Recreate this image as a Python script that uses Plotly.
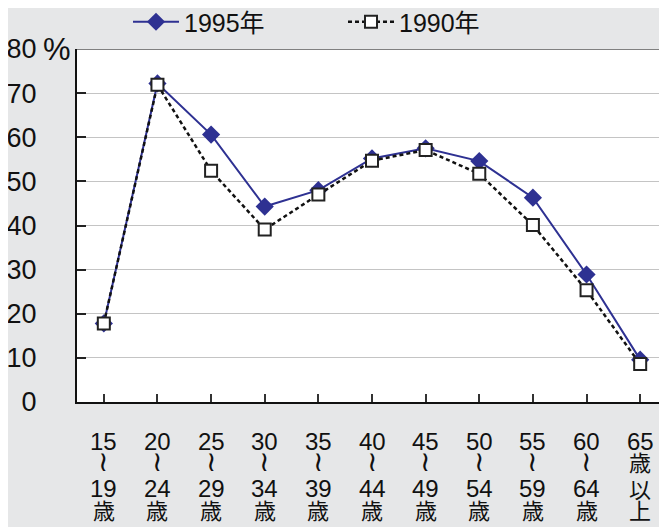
import plotly.graph_objects as go

categories = ["15-19", "20-24", "25-29", "30-34", "35-39", "40-44",
              "45-49", "50-54", "55-59", "60-64", "65+"]
y1995 = [17.8, 72.2, 60.6, 44.3, 48.0, 55.2, 57.5, 54.6, 46.3, 28.9, 9.6]
y1990 = [17.8, 71.9, 52.4, 39.1, 47.0, 54.7, 57.1, 51.7, 40.1, 25.3, 8.6]

lab_row1 = ["15", "20", "25", "30", "35", "40", "45", "50", "55", "60", "65"]
lab_row2 = ["≀"] * 10 + ["歳"]
lab_row3 = ["19", "24", "29", "34", "39", "44", "49", "54", "59", "64", "以"]
lab_row4 = ["歳"] * 10 + ["上"]

y_tickvals = [0, 10, 20, 30, 40, 50, 60, 70, 80]
y_ticktext = ["0", "10", "20", "30", "40", "50", "60", "70", "80"]

FONT = "Liberation Sans, Arial, Noto Sans CJK JP, sans-serif"
CJK = "Noto Sans CJK JP, Liberation Sans, sans-serif"

OFF = 8  # page offset of the figure
W, H = 667 - OFF, 527 - OFF
ML, MT, MR = 77 - OFF, 49 - OFF, 0
BOT = 402 - OFF
MB = H - BOT
PH = BOT - MT
PW = W - ML - MR

fig = go.Figure()
fig.add_trace(go.Scatter(
    x=list(range(len(categories))), y=y1995, name="1995年", mode="lines+markers",
    line=dict(color="#2e3192", width=2),
    marker=dict(symbol="diamond", size=14, color="#2e3192"),
))
fig.add_trace(go.Scatter(
    x=list(range(len(categories))), y=y1990, name="1990年", mode="lines+markers",
    line=dict(color="#111111", width=2.5, dash="4px,3px"),
    marker=dict(symbol="square", size=12, color="white",
                line=dict(color="#222222", width=2)),
))

def py(p):
    return (BOT - (p - OFF)) / PH

annotations = []
rows = [(lab_row1, 441), (lab_row2, 461), (lab_row3, 488), (lab_row4, 509)]
for labels, ypix in rows:
    for i, t in enumerate(labels):
        if t == "≀":
            annotations.append(dict(
                x=i, xref="x", y=py(ypix), yref="paper", text=t, showarrow=False,
                xanchor="center", yanchor="middle",
                font=dict(family="DejaVu Sans", size=28, color="#111111"),
            ))
            continue
        is_cjk = t in ("歳", "以", "上")
        annotations.append(dict(
            x=i, xref="x", y=py(ypix), yref="paper", text=t, showarrow=False,
            xanchor="center", yanchor="middle",
            font=dict(family=CJK if is_cjk else FONT, size=22 if is_cjk else 24,
                      color="#111111"),
        ))
annotations.append(dict(
    x=(44 - OFF - 3 - ML) / PW, xref="paper", y=80, yref="y", text="%",
    showarrow=False, xanchor="left", yanchor="middle",
    font=dict(family=FONT, size=31, color="#111111"),
))

fig.update_layout(
    width=W, height=H,
    margin=dict(l=ML, r=MR, t=MT, b=MB, pad=0, autoexpand=False),
    paper_bgcolor="#e6e7e8",
    plot_bgcolor="white",
    font=dict(family=FONT, size=25, color="#111111"),
    showlegend=True,
    legend=dict(orientation="h", x=(133 - OFF - 5 - ML) / PW, xanchor="left",
                y=1 + 27 / PH, yanchor="middle", bgcolor="rgba(0,0,0,0)",
                font=dict(family=FONT, size=25, color="#111111"),
                entrywidth=154, itemwidth=46),
    annotations=annotations,
    shapes=[dict(type="line", xref="paper", yref="y", x0=0, x1=1, y0=80, y1=80,
                 line=dict(color="#808080", width=2))],
)
fig.update_xaxes(
    range=[-0.5, len(categories) - 0.5], tickvals=list(range(len(categories))),
    showticklabels=False, ticks="inside", ticklen=8, tickcolor="#333333",
    tickson="boundaries", tickwidth=1.5, automargin=False,
    showgrid=False, showline=True, linecolor="#111111", linewidth=2, zeroline=False,
)
fig.update_yaxes(
    range=[0, 80], tickvals=y_tickvals, ticktext=y_ticktext,
    ticks="inside", ticklen=9, tickcolor="#222222", tickwidth=1.5,
    showgrid=True, gridcolor="#c4c4c4", gridwidth=1, automargin=False,
    showline=True, linecolor="#111111", linewidth=2, zeroline=False,
    tickfont=dict(family=FONT, size=27, color="#111111"),
    ticklabelstandoff=33,
)

fig.write_html("out.html")
